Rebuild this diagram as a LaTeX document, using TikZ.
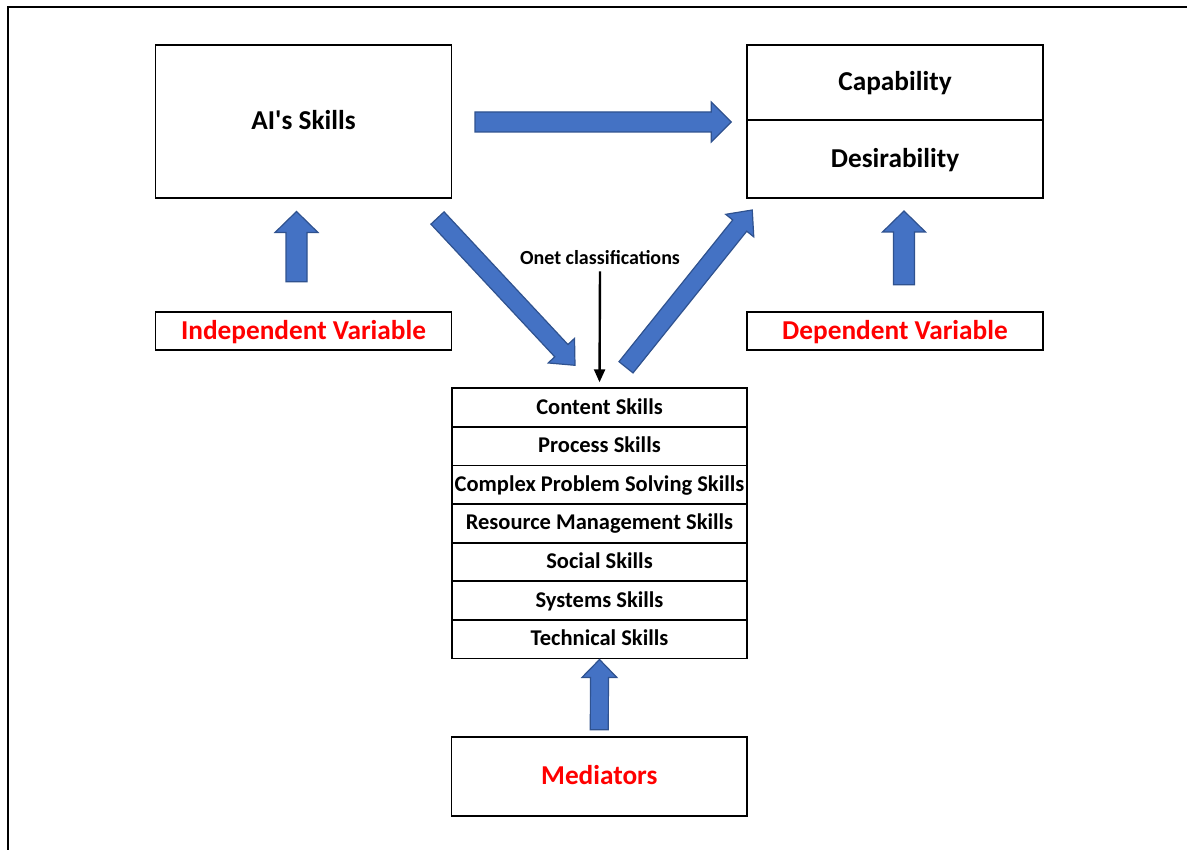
\documentclass[tikz,border=0pt]{standalone}
\usepackage{fontspec}
\setmainfont{Carlito}
\usepackage{xcolor}
\usepackage{tikz}
\usetikzlibrary{positioning,arrows.meta,calc}
\definecolor{arrfill}{HTML}{4472C4}
\definecolor{arredge}{HTML}{2F528F}
\definecolor{labred}{HTML}{FF0000}

% block arrow: tail, tip, half shaft, half head, head length
\newcommand{\fatarrow}[5]{%
  \coordinate (fb) at ($(#2)!#5!(#1)$);
  \draw[fat] ($(#1)!#3!90:(#2)$) -- ($(fb)!#3!-90:(#1)$) -- ($(fb)!#4!-90:(#1)$)
    -- (#2) -- ($(fb)!#4!90:(#1)$) -- ($(fb)!#3!90:(#1)$) -- ($(#1)!#3!-90:(#2)$) -- cycle;}

\begin{document}
\begin{tikzpicture}[x=1pt, y=-1pt,
  box/.style={draw, line width=1.7pt, outer sep=0pt, inner sep=0pt, fill=white,
              font=\fontsize{27.3}{30}\selectfont\bfseries, text height=17.5pt, text depth=1pt},
  rowbox/.style={box, minimum width=295.5pt, minimum height=38.6pt,
                 font=\fontsize{22.5}{24}\selectfont\bfseries, text height=14pt, text depth=1pt},
  varbox/.style={box, minimum width=296pt, minimum height=38.5pt, text=labred},
  fat/.style={fill=arrfill, draw=arredge, line width=1.2pt, line join=miter},
  thinarr/.style={-{Triangle[length=13pt,width=11pt]}, line width=2.4pt, shorten >=6pt},
  frame/.style={line width=2pt},
]
\useasboundingbox (0,0) rectangle (1187,850);
\draw[frame] (8,850) -- (8,7) -- (1187,7);

% top row
\node[box, minimum width=296pt, minimum height=153pt] (ai) at (303.5,121.5) {AI\textquotesingle s Skills};
\node[box, minimum width=295.5pt, minimum height=75pt] (cap) at (895,82.5) {Capability};
\node[box, minimum width=295.5pt, minimum height=78pt, below=0pt of cap] (des) {Desirability};

% variable labels
\node[varbox] (ind) at (303.5,331) {Independent Variable};
\node[varbox] (dep) at (895,331) {Dependent Variable};

% mediator stack
\node[rowbox] (r1) at (599.5,407.6) {Content Skills};
\node[rowbox, below=0pt of r1] (r2) {Process Skills};
\node[rowbox, below=0pt of r2] (r3) {Complex Problem Solving Skills};
\node[rowbox, below=0pt of r3] (r4) {Resource Management Skills};
\node[rowbox, below=0pt of r4] (r5) {Social Skills};
\node[rowbox, below=0pt of r5] (r6) {Systems Skills};
\node[rowbox, below=0pt of r6] (r7) {Technical Skills};
\node[box, minimum width=295.5pt, minimum height=79pt, text=labred] (med) at (599.3,776.2) {Mediators};

% onet label and arrow
\node[font=\fontsize{20}{22}\selectfont\bfseries, inner sep=2pt] (onet) at (600,258) {Onet classifications};
\draw[thinarr] ([yshift=-4pt]onet.south) -- (r1.north);

% block arrow end points
\coordinate (h0) at ($(ai.east)+(23.5,0.5)$);
\coordinate (h1) at ($(ai.east -| cap.west)+(-16,0.5)$);
\coordinate (l0) at ($(ind.north)+(-7,-30)$);
\coordinate (l1) at ($(ai.south)+(-7,13.5)$);
\coordinate (q0) at ($(dep.north)+(9,-27)$);
\coordinate (q1) at ($(des.south)+(9,13)$);
\coordinate (d0) at ($(ai.south east)+(-14,20)$);
\coordinate (d1) at ($(r1.north)+(-24.5,-23)$);
\coordinate (u0) at ($(r1.north)+(26.5,-21)$);
\coordinate (u1) at ($(des.south west)+(5,12)$);
\coordinate (m0) at ($(med.north)+(0,-7)$);
\coordinate (m1) at ($(r7.south)+(0,1)$);

\fatarrow{h0}{h1}{10pt}{20pt}{20pt}
\fatarrow{l0}{l1}{10.5pt}{21.5pt}{21pt}
\fatarrow{q0}{q1}{10.5pt}{21.5pt}{21pt}
\fatarrow{d0}{d1}{9pt}{18pt}{20pt}
\fatarrow{u0}{u1}{9pt}{18pt}{20pt}
\fatarrow{m0}{m1}{9pt}{17.5pt}{18pt}
\end{tikzpicture}
\end{document}
